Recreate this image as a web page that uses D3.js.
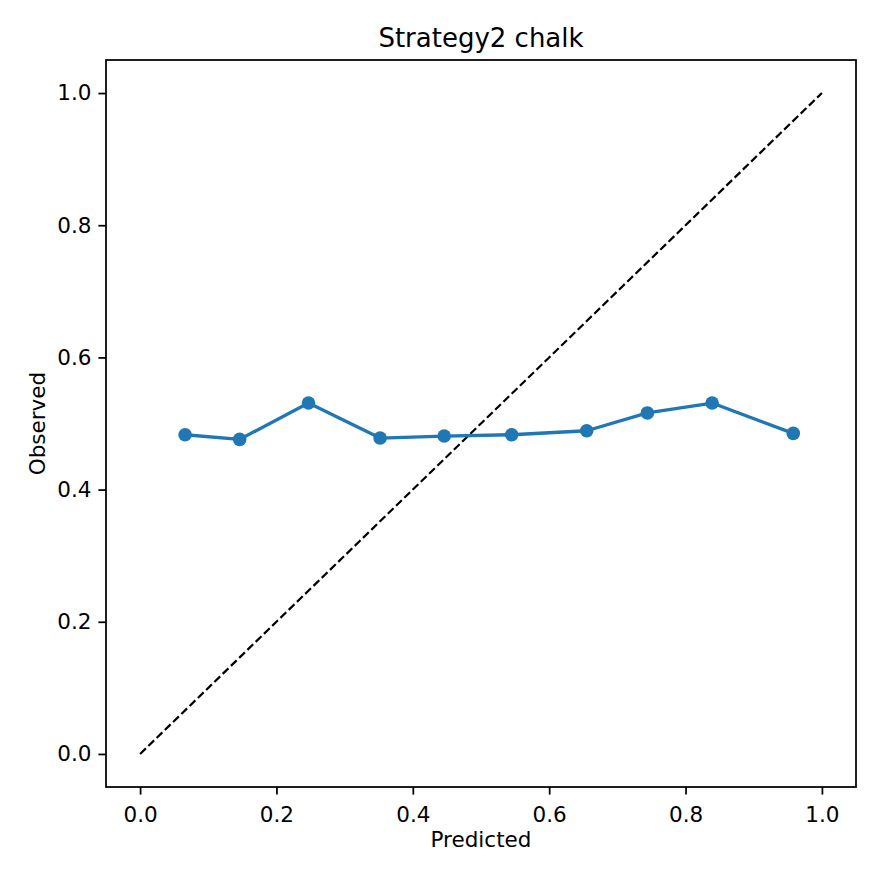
<!DOCTYPE html>
<html>
<head>
<meta charset="utf-8">
<script src="https://cdn.jsdelivr.net/npm/d3@7"></script>
<style>
  body { margin: 0; background: #fff; }
  svg text { font-family: "DejaVu Sans", sans-serif; fill: #000; }
</style>
</head>
<body>
<div id="chart"></div>
<script>
// calibration bins
const predicted = [0.066, 0.146, 0.247, 0.352, 0.446, 0.545, 0.655, 0.744, 0.839, 0.958];
const observed = [0.483, 0.476, 0.531, 0.478, 0.481, 0.483, 0.489, 0.516, 0.531, 0.485];
const tickValues = [0, 0.2, 0.4, 0.6, 0.8, 1.0];
const diagonal = [[0, 0], [1, 1]];

const width = 880, height = 880;
const margin = {top: 60, right: 24, bottom: 93, left: 106};

const svg = d3.select("#chart")
    .append("svg")
    .attr("width", width)
    .attr("height", height);

const x = d3.scaleLinear()
    .domain([-0.05, 1.05])
    .range([margin.left, width - margin.right]);
const y = d3.scaleLinear()
    .domain([-0.05, 1.05])
    .range([height - margin.bottom, margin.top]);

// axes
const xAxis = svg.append("g")
    .attr("transform", `translate(0,${height - margin.bottom})`)
    .call(d3.axisBottom(x).tickValues(tickValues).tickFormat(d3.format(".1f"))
        .tickSize(7.6).tickSizeOuter(0).tickPadding(7));
const yAxis = svg.append("g")
    .attr("transform", `translate(${margin.left},0)`)
    .call(d3.axisLeft(y).tickValues(tickValues).tickFormat(d3.format(".1f"))
        .tickSize(7.6).tickSizeOuter(0).tickPadding(7));

[xAxis, yAxis].forEach(g => {
    g.select(".domain").remove();
    g.selectAll(".tick line").attr("stroke", "#000").attr("stroke-width", 1.75);
    g.selectAll(".tick text").attr("font-size", 21.5).attr("fill", "#000");
});
xAxis.selectAll(".tick text").attr("dy", "0.95em");

// diagonal reference
const line = d3.line().x(d => x(d[0])).y(d => y(d[1]));
svg.append("path")
    .attr("d", line(diagonal))
    .attr("fill", "none")
    .attr("stroke", "#000")
    .attr("stroke-width", 2.2)
    .attr("stroke-dasharray", "8,3.5");

// calibration curve
const pts = predicted.map((p, i) => [p, observed[i]]);
svg.append("path")
    .attr("d", line(pts))
    .attr("fill", "none")
    .attr("stroke", "#1f77b4")
    .attr("stroke-width", 3.3)
    .attr("stroke-linejoin", "round");

svg.selectAll("circle.pt")
    .data(pts)
    .enter()
    .append("circle")
    .attr("class", "pt")
    .attr("cx", d => x(d[0]))
    .attr("cy", d => y(d[1]))
    .attr("r", 6.8)
    .attr("fill", "#1f77b4");

// frame
svg.append("rect")
    .attr("x", margin.left)
    .attr("y", margin.top)
    .attr("width", width - margin.left - margin.right)
    .attr("height", height - margin.top - margin.bottom)
    .attr("fill", "none")
    .attr("stroke", "#000")
    .attr("stroke-width", 1.75);

// labels
svg.append("text")
    .attr("x", (margin.left + width - margin.right) / 2)
    .attr("y", 47)
    .attr("text-anchor", "middle")
    .attr("font-size", 26)
    .text("Strategy2 chalk");

svg.append("text")
    .attr("x", (margin.left + width - margin.right) / 2)
    .attr("y", 847)
    .attr("text-anchor", "middle")
    .attr("font-size", 21.5)
    .text("Predicted");

svg.append("text")
    .attr("transform", `translate(45,${(margin.top + height - margin.bottom) / 2}) rotate(-90)`)
    .attr("text-anchor", "middle")
    .attr("font-size", 21.5)
    .text("Observed");
</script>
</body>
</html>
